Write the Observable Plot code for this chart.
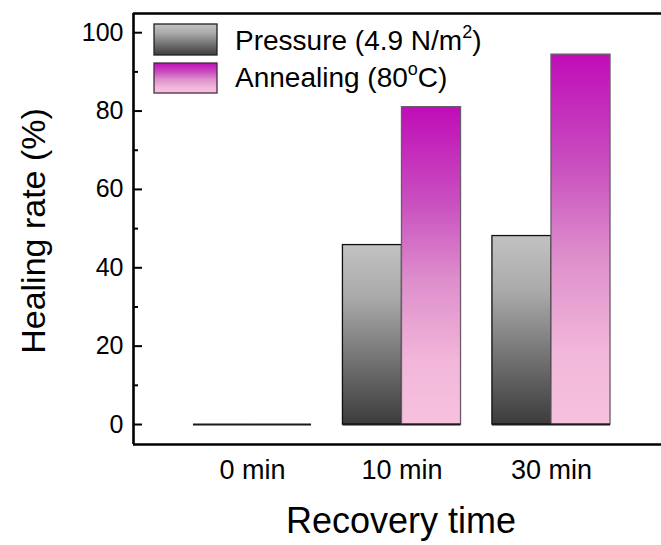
<!DOCTYPE html>
<html>
<head>
<meta charset="utf-8">
<script src="https://cdn.jsdelivr.net/npm/d3@7"></script>
<script src="https://cdn.jsdelivr.net/npm/@observablehq/plot@0.6"></script>
<style>
  body { margin: 0; background: #fff; }
  #chart svg { font-family: "Liberation Sans", Arial, sans-serif; }
</style>
</head>
<body>
<div id="chart"></div>
<script>
// Healing rate after different recovery times, two treatments
const times = ["0 min", "10 min", "30 min"];
const pressure = [0, 45.8, 48.1];
const annealing = [0, 81.0, 94.4];
const yMajorTicks = [0, 20, 40, 60, 80, 100];
const yMinorTicks = [10, 30, 50, 70, 90];

// Long-format rows: each category has a pressure bar (left) and an annealing bar (right)
const halfWidth = 0.395;
const rows = times.flatMap((t, i) => [
  {time: t, i, series: "pressure", value: pressure[i], x1: i - halfWidth, x2: i},
  {time: t, i, series: "annealing", value: annealing[i], x1: i, x2: i + halfWidth}
]);
const pressureRows = rows.filter(d => d.series === "pressure");
const annealingRows = rows.filter(d => d.series === "annealing");

const width = 661, marginLeft = 133, marginRight = 0;
const xDomain = [-0.796, 2.736];
const yDomain = [-5.1, 104.9];
// tick lengths in pixels, expressed in x units for the rule marks
const pxPerUnit = (width - marginLeft - marginRight) / (xDomain[1] - xDomain[0]);
const majorLen = 9 / pxPerUnit, minorLen = 5 / pxPerUnit;

const chart = Plot.plot({
  width,
  height: 545,
  marginLeft,
  marginRight,
  marginTop: 13,
  marginBottom: 101,
  style: {fontFamily: "Liberation Sans, Arial, sans-serif", color: "#000", background: "#fff"},
  x: {domain: xDomain, axis: null},
  y: {domain: yDomain, axis: null},
  marks: [
    Plot.rectY(pressureRows, {x1: "x1", x2: "x2", y1: 0, y2: "value",
      fill: "url(#gradPressure)", stroke: "#111", strokeWidth: 1.3}),
    Plot.rectY(annealingRows, {x1: "x1", x2: "x2", y1: 0, y2: "value",
      fill: "url(#gradAnnealing)", stroke: "#6b5c6b", strokeWidth: 1.3}),
    // bottom edge of every bar (also visible where the value is zero)
    Plot.ruleY(rows, {y: () => 0, x1: "x1", x2: "x2", stroke: "#1a1a1a", strokeWidth: 2}),
    // inward ticks on the left axis
    Plot.ruleY(yMajorTicks, {x1: xDomain[0], x2: xDomain[0] + majorLen, stroke: "#000", strokeWidth: 2}),
    Plot.ruleY(yMinorTicks, {x1: xDomain[0], x2: xDomain[0] + minorLen, stroke: "#000", strokeWidth: 2}),
    // frame: left, bottom and top lines
    Plot.ruleX([xDomain[0]], {stroke: "#000", strokeWidth: 2.6}),
    Plot.ruleY([yDomain[0], yDomain[1]], {stroke: "#000", strokeWidth: 2.6}),
    Plot.axisY({ticks: yMajorTicks, tickSize: 0, tickPadding: 10, fontSize: 25, label: null,
      tickFormat: d => String(d)}),
    Plot.axisX({ticks: [0, 1, 2], tickFormat: i => times[i], tickSize: 0, tickPadding: 15,
      fontSize: 27, label: null})
  ]
});

const svg = d3.select(chart);
const font = "Liberation Sans, Arial, sans-serif";

// Vertical gradients, one per bar (objectBoundingBox units)
const defs = svg.insert("defs", ":first-child");
const gp = defs.append("linearGradient").attr("id", "gradPressure")
  .attr("x1", 0).attr("y1", 0).attr("x2", 0).attr("y2", 1);
[[0, "#c2c2c2"], [0.3, "#a9a9a9"], [0.7, "#6a6a6a"], [1, "#3c3c3c"]]
  .forEach(([o, c]) => gp.append("stop").attr("offset", o).attr("stop-color", c));
const ga = defs.append("linearGradient").attr("id", "gradAnnealing")
  .attr("x1", 0).attr("y1", 0).attr("x2", 0).attr("y2", 1);
[[0, "#c00cb8"], [0.3, "#c94fbf"], [0.55, "#de8fcc"], [0.8, "#f1b6d9"], [1, "#f7c2de"]]
  .forEach(([o, c]) => ga.append("stop").attr("offset", o).attr("stop-color", c));

// Axis titles
svg.append("text")
  .attr("x", 401).attr("y", 533)
  .attr("text-anchor", "middle")
  .attr("font-family", font).attr("font-size", 36).attr("fill", "#000")
  .text("Recovery time");
svg.append("text")
  .attr("transform", "translate(45,231) rotate(-90)")
  .attr("text-anchor", "middle")
  .attr("font-family", font).attr("font-size", 34).attr("fill", "#000")
  .text("Healing rate (%)");

// Legend
const legend = svg.append("g").attr("font-family", font).attr("font-size", 28)
  .attr("fill", "#000").attr("text-anchor", "start");
legend.append("rect").attr("x", 154).attr("y", 24).attr("width", 63).attr("height", 31)
  .attr("fill", "url(#gradPressure)").attr("stroke", "#222").attr("stroke-width", 1.3);
legend.append("rect").attr("x", 154).attr("y", 63).attr("width", 63).attr("height", 30)
  .attr("fill", "url(#gradAnnealing)").attr("stroke", "#4a2a44").attr("stroke-width", 1.3);
const t1 = legend.append("text").attr("x", 235).attr("y", 50);
t1.append("tspan").text("Pressure (4.9 N/m");
t1.append("tspan").attr("font-size", 18).attr("dy", -12).text("2");
t1.append("tspan").attr("dy", 12).text(")");
const t2 = legend.append("text").attr("x", 235).attr("y", 87);
t2.append("tspan").text("Annealing (80");
t2.append("tspan").attr("font-size", 18).attr("dy", -12).text("o");
t2.append("tspan").attr("dy", 12).text("C)");

document.getElementById("chart").append(chart);
</script>
</body>
</html>
